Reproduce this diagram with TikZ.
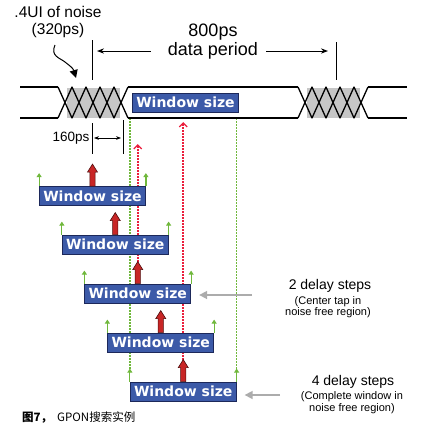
\documentclass[tikz,border=0pt]{standalone}
\usepackage{fontspec}
\setmainfont{Liberation Sans}
\newfontfamily\boxfont{DejaVu Sans}
\newfontfamily\cjk{Noto Sans CJK SC}
\usetikzlibrary{arrows.meta,backgrounds}

\definecolor{winblue}{RGB}{60,90,168}
\definecolor{winedge}{RGB}{28,40,90}
\definecolor{redfill}{RGB}{200,38,38}
\definecolor{rededge}{RGB}{80,14,14}
\definecolor{tapgreen}{RGB}{112,184,60}
\definecolor{tapred}{RGB}{235,30,60}

\tikzset{
  wave/.style={line width=1.3pt, line join=round},
  noisebox/.style={fill=gray!45},
  marker/.style={line width=1pt},
  winbox/.style={draw=winedge, fill=winblue, line width=0.8pt, minimum width=106pt,
    minimum height=19pt, inner sep=0pt, text=white,
    font=\boxfont\bfseries\fontsize{14}{14}\selectfont},
  redup/.pic={
    \draw[draw=rededge, fill=redfill, line width=0.6pt, line join=miter]
      (-2.6,0) -- (-2.6,-14) -- (-5,-14) -- (0,-22) -- (5,-14) -- (2.6,-14) -- (2.6,0) -- cycle;
    \coordinate (-tip) at (0,-22);
  },
  greenup/.style={draw=tapgreen, line width=1.2pt, -{Triangle[length=4pt,width=5pt]}},
  greendot/.style={draw=tapgreen, line width=1.6pt, dash pattern=on 2pt off 1pt},
  reddot/.style={draw=tapred, line width=1.6pt, dash pattern=on 2pt off 1pt,
    -{Straight Barb[length=4pt,width=8pt,line width=1.4pt]}},
  grayarr/.style={draw=gray!65, line width=1.6pt, -{Triangle[length=8pt,width=8pt]}},
  bigtxt/.style={inner sep=0pt, font=\fontsize{18}{18}\selectfont},
  midtxt/.style={inner sep=0pt, font=\fontsize{14}{14}\selectfont},
  smalltxt/.style={inner sep=0pt, font=\fontsize{11}{11}\selectfont},
}

\begin{document}
\begin{tikzpicture}[x=1pt, y=-1pt]
    \useasboundingbox (0,0) rectangle (425,432);

    % waveform with two noise regions
    \foreach \x in {58,298} {
        \fill[noisebox] (\x+9,88) rectangle (\x+62,118);
        \draw[wave] (\x,87) -- (\x+14,118) -- (\x+28,87) -- (\x+42,118) -- (\x+56,87) -- (\x+70,118);
        \draw[wave] (\x,118) -- (\x+14,87) -- (\x+28,118) -- (\x+42,87) -- (\x+56,118) -- (\x+70,87);
    }
    \draw[wave] (20,87) -- (58,87);
    \draw[wave] (20,118) -- (58,118);
    \draw[wave] (128,87) -- (298,87);
    \draw[wave] (128,118) -- (298,118);
    \draw[wave] (368,87) -- (407,87);
    \draw[wave] (368,118) -- (407,118);
    \coordinate (wb) at (0,118);

    \node[winbox] (b0) at (185.5,102.5) {Window size};

    % labels above
    \node[inner sep=0pt, font=\fontsize{15.5}{15.5}\selectfont] (noise) at (58,12) {.4UI of noise};
    \node[inner sep=0pt, font=\fontsize{15.5}{15.5}\selectfont] (n320) at (58,30) {(320ps)};
    \coordinate (sq) at (55,45);
    \draw[line width=1pt, -{Triangle[length=8pt,width=8pt]}] (sq) .. controls (50,56) and (60,58) .. (65,62) .. controls (70,66) and (73,68) .. (76,78);

    \node[bigtxt] (ps800) at (213,32) {800ps};
    \node[bigtxt] (dp) at (213,51) {data period};
    \coordinate (ml) at (92,40);
    \coordinate (mr) at (336,42);
    \draw[marker] (ml) -- ++(0,40);
    \draw[marker] (mr) -- ++(0,38);
    \draw[marker, -{Stealth[length=7pt]}] ([xshift=-17pt]dp.west) -- (dp.west -| ml) [shorten >=5pt];
    \draw[marker, -{Stealth[length=7pt]}] ([xshift=8pt]dp.east) -- (dp.east -| mr) [shorten >=8pt];

    % 160ps dimension
    \node[inner sep=0pt, font=\fontsize{13.5}{13.5}\selectfont] (t160) at (71,138) {160ps};
    \coordinate (dl) at (92,123);
    \coordinate (dr) at (123,120);
    \draw[marker] (dl) -- ++(0,31);
    \draw[marker] (dr) -- ++(0,34);
    \draw[marker, {Stealth[length=5pt]}-{Stealth[length=5pt]}, shorten <=2pt, shorten >=2pt] (t160.east -| dl) -- (t160.east -| dr);

    % stepped windows
    \foreach \i/\x/\y in {1/92.5/196, 2/115.25/244.5, 3/137.75/293.5, 4/160.75/342.5, 5/183.25/391.5} {
        \node[winbox] (b\i) at (\x,\y) {Window size};
        \pic (r\i) at (b\i.north) {redup};
        \draw[greenup] (b\i.north west) -- ++(0,-13);
        \draw[greenup] (b\i.north east) -- ++(0,-13);
    }

    \begin{pgfonlayer}{background}
        \draw[greendot] ([yshift=13pt]b5.north west) -- (b5.north west |- wb);
        \draw[greendot] ([yshift=13pt]b5.north east) -- (b5.north east |- wb);
        \coordinate (rt5) at (0,122);
        \coordinate (rt3) at (0,144);
        \draw[reddot] (r5-tip) -- (r5-tip |- rt5);
        \draw[reddot] (r3-tip) -- (r3-tip |- rt3);
    \end{pgfonlayer}

    % delay step notes
    \node[midtxt] (s2) at (330,286) {2 delay steps};
    \node[smalltxt] (s2b) at (328,302) {(Center tap in};
    \node[smalltxt] (s2c) at (328,313) {noise free region)};
    \coordinate (g2) at (252,295);
    \draw[grayarr, shorten >=8pt] (g2) -- (g2 -| b3.east);

    \node[midtxt] (s4) at (353,382) {4 delay steps};
    \node[smalltxt] (s4b) at (352,397) {(Complete window in};
    \node[smalltxt] (s4c) at (352,409) {noise free region)};
    \coordinate (g4) at (280,395);
    \draw[grayarr, shorten >=8pt] (g4) -- (g4 -| b5.east);

    \node[anchor=west, inner sep=0pt, font=\cjk\fontsize{11.5}{11.5}\selectfont] (cap) at (22,418) {{\bfseries 图7，}\hspace{5pt}GPON搜索实例};
\end{tikzpicture}
\end{document}
